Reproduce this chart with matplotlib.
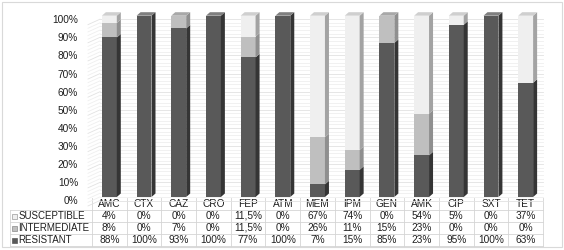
import matplotlib
matplotlib.use("Agg")
import matplotlib.pyplot as plt
import matplotlib.transforms as mtransforms
from matplotlib.patches import Polygon, Rectangle

plt.rcParams['font.family'] = ['Liberation Sans', 'DejaVu Sans']

categories = ["AMC", "CTX", "CAZ", "CRO", "FEP", "ATM", "MEM", "IPM", "GEN", "AMK", "CIP", "SXT", "TET"]
resistant = [88, 100, 93, 100, 77, 100, 7, 15, 85, 23, 95, 100, 63]
intermediate = [8, 0, 7, 0, 11.5, 0, 26, 11, 15, 23, 0, 0, 0]
susceptible = [4, 0, 0, 0, 11.5, 0, 67, 74, 0, 54, 5, 0, 37]
series_names = ["SUSCEPTIBLE", "INTERMEDIATE", "RESISTANT"]
yticks = [0, 10, 20, 30, 40, 50, 60, 70, 80, 90, 100]

FS = 7.3
TXT = '#1f1f1f'
W, H = 564, 250
fig = plt.figure(figsize=(W / 100, H / 100), dpi=100)

# overlay in pixel coordinates
ov = fig.add_axes([0, 0, 1, 1], zorder=0)
ov.set_xlim(0, W)
ov.set_ylim(H, 0)
ov.axis('off')
ov.add_patch(Rectangle((2, 2), W - 4, H - 5, fill=False, ec='#d9d9d9', lw=0.8))

# main axes
px_per_pct = 1.813
y0px = 197.0
ymax = 105
ax_left, ax_right = 92, 543
ax = fig.add_axes([ax_left / W, (H - y0px) / H, (ax_right - ax_left) / W, ymax * px_per_pct / H], zorder=2)
ax.patch.set_alpha(0)
n = len(categories)
ax.set_xlim(-0.5, n - 0.5)
ax.set_ylim(0, ymax)
for s in ax.spines.values():
    s.set_visible(False)
ax.set_xticks([])
ax.set_yticks(yticks)
ax.set_yticklabels([f"{t}%" for t in yticks], fontsize=FS, color=TXT)
ax.tick_params(axis='y', length=0, pad=10)
off = mtransforms.ScaledTranslation(0, -3.5 / 100, fig.dpi_scale_trans)
for lab in ax.get_yticklabels():
    lab.set_transform(lab.get_transform() + off)

# back wall gridlines (every 2%) with slanted left wall
gl_tr = ax.transData + off
for g in range(0, 101, 2):
    col = '#e2e2e2' if g % 10 == 0 else '#efefef'
    ax.plot([-0.5 + 8 / 34.7, n - 0.5], [g, g], color=col, lw=0.6, transform=gl_tr, zorder=0, clip_on=False)
    ax.plot([-0.5 - 4 / 34.7, -0.5 + 8 / 34.7], [g - 3, g], color=col, lw=0.6, transform=gl_tr, zorder=0, clip_on=False)

# bars
x = list(range(n))
w = 0.43
dx = 4 / 34.7
dy = 3.5 / px_per_pct
front = {"RESISTANT": '#595959', "INTERMEDIATE": '#bfbfbf', "SUSCEPTIBLE": '#efefef'}
side = {"RESISTANT": '#353535', "INTERMEDIATE": '#8f8f8f', "SUSCEPTIBLE": '#a3a3a3'}
top = {"RESISTANT": '#7f7f7f', "INTERMEDIATE": '#a8a8a8', "SUSCEPTIBLE": '#cfcfcf'}
stack = [("RESISTANT", resistant), ("INTERMEDIATE", intermediate), ("SUSCEPTIBLE", susceptible)]
bottoms = [0.0] * n
last_name = [None] * n
for name, vals in stack:
    ax.bar(x, vals, width=w, bottom=bottoms, color=front[name], edgecolor='none', zorder=3)
    for i, v in enumerate(vals):
        if v <= 0:
            continue
        b = bottoms[i]
        xr = x[i] + w / 2
        ax.add_patch(Polygon([(xr, b), (xr + dx, b + dy), (xr + dx, b + v + dy), (xr, b + v)],
                             closed=True, fc=side[name], ec='none', zorder=3))
        last_name[i] = name
    bottoms = [b + v for b, v in zip(bottoms, vals)]
for i in range(n):
    t = bottoms[i]
    xl, xr = x[i] - w / 2, x[i] + w / 2
    ax.add_patch(Polygon([(xl, t), (xl + dx, t + dy), (xr + dx, t + dy), (xr, t)],
                         closed=True, fc=top[last_name[i]], ec='none', zorder=3))

# data table
bt = mtransforms.blended_transform_factory(ax.transData, ov.transData)
row_y = [204, 216, 228, 240]
line_y = [198, 210, 222, 234, 246]
lc = '#d4d4d4'
for i in range(n + 1):
    ov.plot([i - 0.5, i - 0.5], [line_y[0], line_y[-1]], color=lc, lw=0.6, transform=bt)
for k, ly in enumerate(line_y[1:]):
    ov.plot([10, ax_left], [ly, ly], color=lc, lw=0.6)
    ov.plot([-0.5, n - 0.5], [ly, ly], color=lc, lw=0.6, transform=bt)
ov.plot([10, 10], [line_y[1], line_y[-1]], color=lc, lw=0.6)
for i, c in enumerate(categories):
    ov.text(i, row_y[0], c, ha='center', va='center', fontsize=FS, color=TXT, transform=bt)

def fmt(v):
    s = f"{v:g}%"
    return s.replace('.', ',')

rows = [susceptible, intermediate, resistant]
keycol = ['#efefef', '#bfbfbf', '#595959']
keyedge = ['#9a9a9a', '#8a8a8a', '#595959']
for r, (name, vals) in enumerate(zip(series_names, rows)):
    yy = row_y[r + 1]
    ov.add_patch(Rectangle((12, yy - 2.5), 5, 5, fc=keycol[r], ec=keyedge[r], lw=0.5))
    ov.text(18.5, yy, name, ha='left', va='center', fontsize=FS - 0.3, color=TXT)
    for i, v in enumerate(vals):
        ov.text(i, yy, fmt(v), ha='center', va='center', fontsize=FS, color=TXT, transform=bt)

fig.savefig("out.png", dpi=100)
